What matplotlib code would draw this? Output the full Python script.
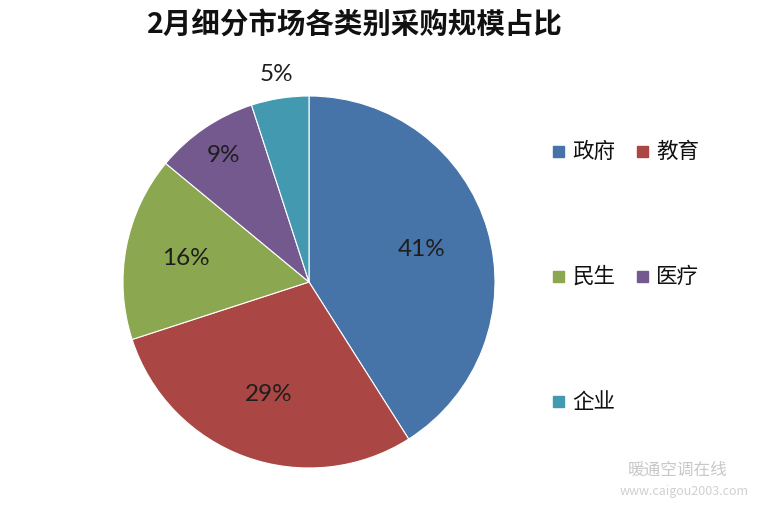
import numpy as np
import matplotlib
matplotlib.use("Agg")
import matplotlib.pyplot as plt

plt.rcParams["font.family"] = ["Noto Sans CJK SC", "DejaVu Sans"]

# data
categories = ["政府", "教育", "民生", "医疗", "企业"]
shares = [41, 29, 16, 9, 5]
title = "2月细分市场各类别采购规模占比"

colors = ["#4673A8", "#AA4744", "#8BA74F", "#74598F", "#4299B0"]
label_radius = [0.63, 0.64, 0.675, 0.82, 1.13]

W, H = 765, 512
fig = plt.figure(figsize=(W / 100, H / 100), dpi=100)
fig.patch.set_facecolor("white")

# pie placed in pixel coords: centre (309, 282), radius 186
cx, cy, r = 309, 282, 186
ax = fig.add_axes([(cx - r) / W, 1 - (cy + r) / H, 2 * r / W, 2 * r / H])
wedges, _ = ax.pie(shares, colors=colors, startangle=90, counterclock=False,
                   radius=1, wedgeprops=dict(edgecolor="white", linewidth=0.8))
ax.set_xlim(-1, 1)
ax.set_ylim(-1, 1)
ax.set_aspect("equal")
ax.axis("off")

for w, val, rr in zip(wedges, shares, label_radius):
    ang = np.deg2rad((w.theta1 + w.theta2) / 2)
    ax.text(rr * np.cos(ang), rr * np.sin(ang), f"{val}%",
            ha="center", va="center", fontsize=17.5, color="#1e1e1e",
            family=["Lato", "DejaVu Sans"], clip_on=False)

fig.text(355 / W, 1 - 25 / H, title, ha="center", va="center",
         fontsize=20.5, fontweight="bold", color="#111111")

# legend: two columns, three rows
rows_y = [152, 277, 402]
cols_x = [553, 637]
for i, (name, col) in enumerate(zip(categories, colors)):
    x = cols_x[i % 2]
    y = rows_y[i // 2]
    fig.patches.append(plt.Rectangle((x / W, 1 - (y + 5) / H), 11 / W, 11 / H,
                                     transform=fig.transFigure, color=col))
    fig.text((x + 19) / W, 1 - y / H, name, ha="left", va="center",
             fontsize=15.5, color="#111111")

# faint watermark
fig.text(628 / W, 1 - 470 / H, "暖通空调在线", ha="left", va="center",
         fontsize=12, color="#c8c8c8")
fig.text(620 / W, 1 - 491 / H, "www.caigou2003.com", ha="left", va="center",
         fontsize=9, color="#d0d0d0")

fig.savefig("out.png", dpi=100, facecolor="white")
